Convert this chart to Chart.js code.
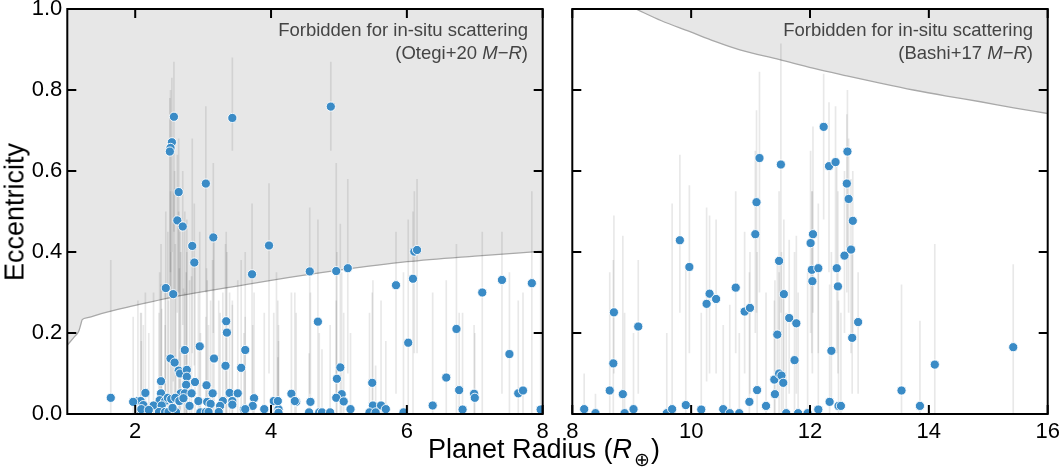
<!DOCTYPE html>
<html><head><meta charset="utf-8">
<script src="https://cdn.jsdelivr.net/npm/chart.js@4.4.1/dist/chart.umd.min.js"></script>
<style>
html,body{margin:0;padding:0;background:#fff;}
body{width:1062px;height:469px;position:relative;overflow:hidden;font-family:"Liberation Sans",Arial,sans-serif;}
.panel{position:absolute;top:0;height:469px;}
#p1{left:0;width:560px;}
#p2{left:560px;width:502px;}
.note{position:absolute;text-align:right;font-size:18.5px;line-height:23px;color:#444;white-space:nowrap;}
#ylab{position:absolute;left:15px;top:212px;transform:translate(-50%,-50%) rotate(-90deg);font-size:27px;white-space:nowrap;color:#000;}
#xlab{position:absolute;left:428px;top:434px;font-size:27px;line-height:30px;white-space:nowrap;color:#000;}
#xlab sub{font-family:"DejaVu Sans",sans-serif;font-size:19px;vertical-align:-8px;margin-left:2px;margin-right:1px;font-weight:300;}
</style></head>
<body>
<div class="panel" id="p1"><canvas id="c1"></canvas></div>
<div class="panel" id="p2"><canvas id="c2"></canvas></div>
<div class="note" style="right:534px;top:18px;">Forbidden for in-situ scattering<br>(Otegi+20 <i>M</i>−<i>R</i>)</div>
<div class="note" style="right:29px;top:18px;">Forbidden for in-situ scattering<br>(Bashi+17 <i>M</i>−<i>R</i>)</div>
<div id="ylab">Eccentricity</div>
<div id="xlab">Planet Radius (<i>R</i><sub>⊕</sub>)</div>
<script>
// ---------- data ----------
const yTicks = [0, 0.2, 0.4, 0.6, 0.8, 1.0];
const leftXTicks = [2, 4, 6, 8];
const rightXTicks = [8, 10, 12, 14, 16];

// forbidden-region boundaries
const otegiR = [1.0, 1.1, 1.17, 1.2, 1.22, 1.3, 1.5, 2.0, 2.5, 3.0, 3.5, 4.0, 5.0, 6.0, 7.0, 8.0];
const otegiE = [0.17, 0.19, 0.205, 0.222, 0.233, 0.238, 0.248, 0.268, 0.287, 0.302, 0.316, 0.330, 0.355, 0.376, 0.390, 0.402];
const bashiR = [9.07, 9.5, 9.98, 10.4, 10.82, 11.49, 12.05, 12.62, 13.18, 13.74, 14.3, 14.87, 15.43, 16.0];
const bashiE = [1.0, 0.971, 0.944, 0.920, 0.899, 0.875, 0.854, 0.835, 0.817, 0.800, 0.785, 0.771, 0.756, 0.742];

// left panel planets (R < 8)
const leftR = [1.64,2.57,3.43,2.54,2.52,2.51,2.64,3.04,2.62,2.70,3.15,4.88,2.84,3.97,2.87,3.72,2.45,2.56,4.57,4.69,
  3.34,3.35,6.11,6.15,4.96,5.13,5.84,6.09,7.40,7.84,7.11,6.73,6.02,7.51,5.02,4.97,5.49,6.58,6.77,6.99,
  7.00,7.64,7.71,4.30,5.04,4.96,5.07,4.08,4.37,4.58,4.11,5.17,5.50,5.62,5.69,6.38,6.82,7.97,4.56,4.71,
  4.75,4.87,5.45,5.54,5.95,4.10,2.95,2.73,3.62,2.52,2.58,3.16,3.33,3.56,2.64,2.66,2.76,2.76,2.38,2.88,
  2.75,3.05,2.15,2.38,2.67,2.73,2.83,3.14,3.39,3.51,2.04,2.08,2.36,2.44,2.48,2.53,2.59,2.65,2.71,2.93,
  3.06,3.11,3.29,3.43,3.75,4.04,4.10,4.35,2.12,2.27,2.39,2.80,3.25,3.43,3.73,2.09,2.35,2.44,2.49,2.60,
  2.96,3.04,3.08,3.23,3.60,3.62,3.90,4.11,1.97,2.09,2.20,2.55];
const leftE = [0.040,0.734,0.731,0.671,0.657,0.648,0.548,0.569,0.478,0.463,0.436,0.759,0.415,0.416,0.374,0.345,0.311,0.296,0.352,0.228,
  0.229,0.201,0.401,0.405,0.353,0.360,0.318,0.334,0.331,0.323,0.300,0.210,0.176,0.148,0.115,0.087,0.077,0.090,0.059,0.050,
  0.040,0.051,0.058,0.050,0.049,0.040,0.031,0.030,0.030,0.030,0.012,0.012,0.021,0.021,0.012,0.021,0.011,0.011,0.004,0.004,
  0.004,0.004,0.004,0.004,0.004,0.003,0.167,0.158,0.158,0.137,0.127,0.137,0.119,0.114,0.107,0.100,0.109,0.092,0.081,0.079,
  0.072,0.071,0.052,0.051,0.051,0.051,0.051,0.051,0.052,0.051,0.032,0.032,0.034,0.032,0.040,0.037,0.040,0.032,0.039,0.032,
  0.030,0.025,0.032,0.032,0.039,0.032,0.032,0.032,0.022,0.021,0.021,0.020,0.020,0.023,0.020,0.007,0.005,0.005,0.005,0.005,
  0.004,0.005,0.005,0.005,0.012,0.012,0.012,0.003,0.030,0.012,0.010,0.015];
const leftLo = [0,0.45,0.65,0.40,0.35,0.30,0.30,0.30,0.25,0.22,0.20,0.65,0.15,0.10,0.12,0.05,0.05,0.08,0.05,0,
  0,0,0.15,0.15,0.05,0.10,0.05,0,0.05,0,0,0,0,0,0,0,0,0,0,0,
  0,0,0,0,0,0,0,0,0,0,0,0,0,0,0,0,0,0,0,0,
  0,0,0,0,0,0,0,0,0,0,0,0,0,0,0,0,0,0,0,0,
  0,0,0,0,0,0,0,0,0,0,0,0,0,0,0,0,0,0,0,0,
  0,0,0,0,0,0,0,0,0,0,0,0,0,0,0,0,0,0,0,0,
  0,0,0,0,0,0,0,0,0,0,0,0];
const leftHi = [0.38,0.87,0.88,0.83,0.80,0.78,0.68,0.76,0.64,0.60,0.62,0.87,0.68,0.57,0.52,0.52,0.50,0.55,0.51,0.48,
  0.45,0.40,0.55,0.58,0.62,0.58,0.45,0.50,0.45,0.55,0.45,0.42,0.48,0.35,0.47,0.40,0.30,0.33,0.25,0.22,
  0.20,0.28,0.30,0.30,0.35,0.28,0.25,0.35,0.25,0.30,0.22,0.20,0.33,0.28,0.18,0.30,0.25,0.40,0.15,0.20,
  0.16,0.22,0.25,0.12,0.35,0.14,0.45,0.50,0.40,0.55,0.60,0.45,0.42,0.38,0.50,0.45,0.48,0.40,0.42,0.38,
  0.35,0.36,0.30,0.32,0.40,0.30,0.34,0.38,0.30,0.33,0.28,0.25,0.35,0.30,0.45,0.40,0.42,0.36,0.31,0.30,
  0.33,0.28,0.30,0.28,0.30,0.25,0.28,0.30,0.22,0.30,0.26,0.33,0.25,0.27,0.22,0.18,0.25,0.22,0.28,0.30,
  0.20,0.24,0.22,0.28,0.20,0.24,0.25,0.18,0.24,0.25,0.20,0.30];

// right panel planets (R > 8)
const rightR = [8.20,8.39,8.63,8.69,8.70,8.85,8.88,9.03,9.11,9.59,9.68,9.81,9.91,9.97,10.17,10.31,10.26,10.42,10.54,10.65,
  10.75,10.81,10.90,10.99,10.98,11.08,11.11,11.26,11.40,11.41,11.45,11.48,11.48,11.52,11.55,11.56,11.60,11.65,11.74,11.77,
  11.80,11.96,12.01,12.05,12.03,12.14,12.04,12.14,12.33,12.36,12.48,12.45,12.47,12.58,12.69,12.81,12.71,12.52,13.54,13.85,
  14.10,15.42,12.23,11.15,11.51,12.32,12.43,11.10,12.63,12.62,12.65,12.72];
const rightE = [0.012,0.002,0.058,0.125,0.251,0.049,0.002,0.012,0.216,0.002,0.012,0.429,0.022,0.363,0.011,0.297,0.272,0.284,0.012,0.002,
  0.312,0.002,0.253,0.262,0.030,0.444,0.059,0.020,0.085,0.049,0.196,0.378,0.100,0.095,0.077,0.296,0.002,0.237,0.133,0.224,
  0.002,0.002,0.422,0.444,0.356,0.360,0.328,0.011,0.030,0.156,0.020,0.360,0.315,0.391,0.406,0.227,0.188,0.020,0.058,0.020,
  0.122,0.165,0.709,0.632,0.616,0.612,0.622,0.523,0.648,0.569,0.531,0.477];
const rightLo = [0,0,0,0,0.10,0,0,0,0.05,0,0,0.25,0,0.15,0,0.10,0.08,0.10,0,0,
  0.15,0,0.10,0.05,0,0.20,0,0,0,0,0.05,0.20,0,0,0,0.10,0,0.05,0,0.05,
  0,0,0.20,0.25,0.15,0.15,0.10,0,0,0.02,0,0.15,0.10,0.20,0.15,0.05,0.05,0,0,0,
  0,0,0.48,0.30,0.25,0.35,0.35,0.25,0.40,0.30,0.25,0.20];
const rightHi = [0.10,0.05,0.35,0.38,0.49,0.44,0.25,0.20,0.38,0.20,0.52,0.64,0.37,0.565,0.25,0.49,0.51,0.48,0.22,0.27,
  0.55,0.20,0.45,0.40,0.35,0.65,0.40,0.30,0.28,0.33,0.38,0.55,0.35,0.40,0.30,0.48,0.25,0.43,0.40,0.44,
  0.30,0.35,0.65,0.71,0.55,0.52,0.55,0.35,0.32,0.40,0.28,0.62,0.55,0.60,0.58,0.35,0.42,0.25,0.32,0.23,
  0.42,0.37,0.84,0.845,0.915,0.77,0.76,0.75,0.80,0.74,0.68,0.60];

// ---------- drawing ----------
Chart.defaults.font.family = '"Liberation Sans", Arial, sans-serif';
Chart.defaults.color = '#000';

const deco = {
  id: 'deco',
  afterDatasetDraw(chart, args) {
    if (args.index !== 0) return;
    const e = chart.options.plugins.deco;
    const {ctx, chartArea: a, scales: {x, y}} = chart;
    ctx.save();
    ctx.beginPath(); ctx.rect(a.left, a.top, a.right - a.left, a.bottom - a.top); ctx.clip();
    ctx.strokeStyle = 'rgba(0,0,0,0.09)';
    ctx.lineWidth = 1.7;
    for (let i = 0; i < e.r.length; i++) {
      const px = x.getPixelForValue(e.r[i]);
      ctx.beginPath();
      ctx.moveTo(px, y.getPixelForValue(e.lo[i]));
      ctx.lineTo(px, y.getPixelForValue(e.hi[i]));
      ctx.stroke();
    }
    ctx.restore();
  },
  afterDraw(chart) {
    const {ctx, chartArea: a, scales: {x, y}} = chart;
    ctx.save();
    ctx.strokeStyle = '#000';
    ctx.lineWidth = 2;
    const L = 9;
    ctx.beginPath();
    x.ticks.forEach(t => {
      const px = x.getPixelForValue(t.value);
      ctx.moveTo(px, a.bottom); ctx.lineTo(px, a.bottom - L);
      ctx.moveTo(px, a.top); ctx.lineTo(px, a.top + L);
    });
    y.ticks.forEach(t => {
      const py = y.getPixelForValue(t.value);
      ctx.moveTo(a.left, py); ctx.lineTo(a.left + L, py);
      ctx.moveTo(a.right, py); ctx.lineTo(a.right - L, py);
    });
    ctx.stroke();
    ctx.strokeRect(a.left, a.top, a.right - a.left, a.bottom - a.top);
    ctx.restore();
  }
};

function makeChart(id, cfg) {
  const curve = cfg.curveR.map((v, i) => ({x: v, y: cfg.curveE[i]}));
  const pts = cfg.r.map((v, i) => ({x: v, y: cfg.e[i]}));
  return new Chart(document.getElementById(id), {
    type: 'scatter',
    data: {datasets: [
      {data: curve, showLine: true, fill: 'end', order: 2, borderColor: '#a9a9a9', borderWidth: 1.3,
       backgroundColor: '#e7e7e7', pointRadius: 0, cubicInterpolationMode: 'monotone'},
      {data: pts, order: 1, pointRadius: 4.6, pointHoverRadius: 4.6, backgroundColor: '#3a8bc6',
       borderColor: '#ffffff', borderWidth: 0.9}
    ]},
    options: {
      responsive: true, maintainAspectRatio: false, animation: false,
      events: [],
      layout: {padding: {left: 0, top: 9, right: cfg.padRight, bottom: 0}},
      plugins: {legend: {display: false}, tooltip: {enabled: false},
        deco: {r: cfg.r, lo: cfg.lo, hi: cfg.hi}},
      scales: {
        x: {type: 'linear', min: cfg.xmin, max: cfg.xmax,
          grid: {display: false, drawTicks: false}, border: {display: false},
          afterBuildTicks: s => { s.ticks = cfg.xTicks.map(v => ({value: v})); },
          afterFit: s => { s.height = 55; s.paddingLeft = 0; s.paddingRight = 0; },
          ticks: {font: {size: 22}, padding: 5, maxRotation: 0, autoSkip: false, callback: v => String(v)}},
        y: {type: 'linear', min: 0, max: 1,
          grid: {display: false, drawTicks: false}, border: {display: false},
          afterBuildTicks: s => { s.ticks = yTicks.map(v => ({value: v})); },
          afterFit: s => { s.width = cfg.yWidth; s.paddingTop = 0; s.paddingBottom = 0; },
          ticks: {display: cfg.showY, font: {size: 22}, padding: 5, callback: v => v.toFixed(1)}}
      }
    },
    plugins: [deco]
  });
}

makeChart('c1', {curveR: otegiR, curveE: otegiE, r: leftR, e: leftE, lo: leftLo, hi: leftHi,
  xmin: 1, xmax: 8, xTicks: leftXTicks, padRight: 17.3, yWidth: 67.3, showY: true});
makeChart('c2', {curveR: bashiR, curveE: bashiE, r: rightR, e: rightE, lo: rightLo, hi: rightHi,
  xmin: 8, xmax: 16, xTicks: rightXTicks, padRight: 14.3, yWidth: 12.3, showY: false});
</script>
</body></html>
